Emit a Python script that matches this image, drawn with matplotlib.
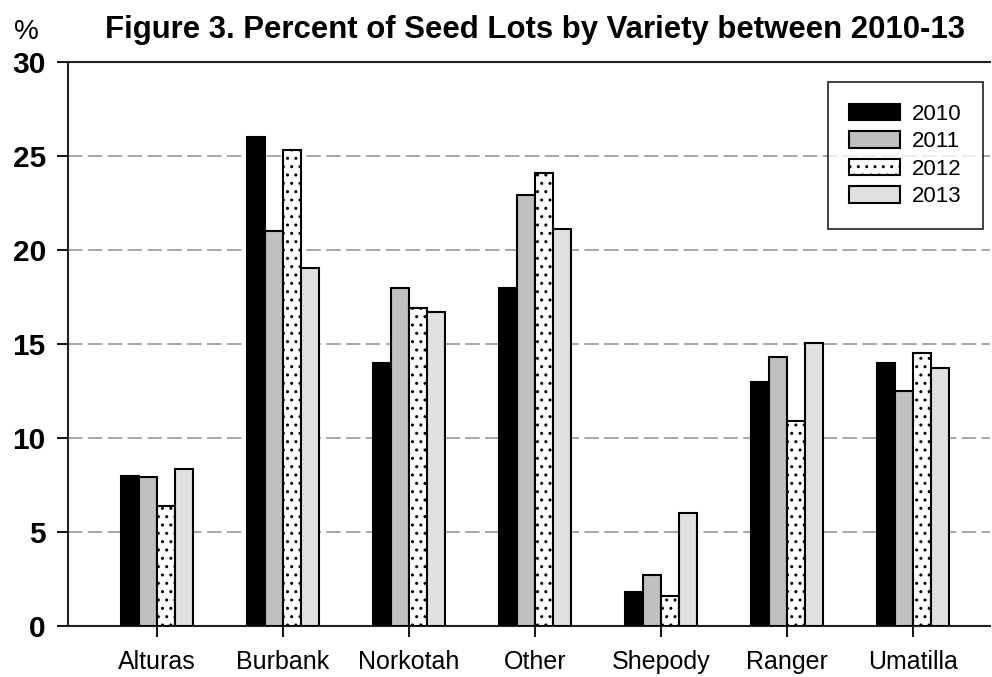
import matplotlib
matplotlib.use("Agg")
import matplotlib.pyplot as plt
import numpy as np

plt.rcParams['font.family'] = ['Liberation Sans', 'DejaVu Sans']
plt.rcParams['hatch.linewidth'] = 1.0

categories = ["Alturas", "Burbank", "Norkotah", "Other", "Shepody", "Ranger", "Umatilla"]
years = ["2010", "2011", "2012", "2013"]
v2010 = [8.0, 26.0, 14.0, 18.0, 1.8, 13.0, 14.0]
v2011 = [7.9, 21.0, 18.0, 22.9, 2.7, 14.3, 12.5]
v2012 = [6.4, 25.3, 16.9, 24.1, 1.6, 10.9, 14.5]
v2013 = [8.35, 19.05, 16.7, 21.1, 6.0, 15.05, 13.7]
series = [v2010, v2011, v2012, v2013]

fills = ["#000000", "#c0c0c0", "#ffffff", "#e0e0e0"]
hatches = [None, None, "..", None]

fig = plt.figure(figsize=(9.92, 6.77), dpi=100)
ax = fig.add_axes([68/992, 1-626/677, (990-68)/992, (626-62)/677])

x = np.arange(len(categories))
w = 0.143
for i, (vals, fc, h) in enumerate(zip(series, fills, hatches)):
    ax.bar(x + (i - 1.5) * w, vals, width=w, color=fc, edgecolor="black",
           linewidth=1.5, hatch=h, label=years[i], zorder=3)

ax.set_ylim(0, 30)
ax.set_xlim(-0.706, 6.61)
ax.set_yticks(range(0, 31, 5))
ax.set_xticks(x)
ax.set_xticklabels(categories, fontsize=18)
for lab in ax.get_yticklabels():
    lab.set_fontsize(21.5)
    lab.set_fontweight("bold")
ax.tick_params(axis="both", direction="out", length=8, width=1.3, color="black")
ax.tick_params(axis="x", pad=9)
ax.tick_params(axis="y", pad=8)

for y in range(5, 30, 5):
    ax.axhline(y, color="#a0a0a0", linestyle=(0, (8, 3)), linewidth=1.3, zorder=1)

ax.spines["right"].set_visible(False)
for s in ["left", "bottom", "top"]:
    ax.spines[s].set_linewidth(1.5)
    ax.spines[s].set_color("#222222")

leg = ax.legend(loc="upper right", bbox_to_anchor=(0.9924, 0.9645), borderaxespad=0,
                fontsize=16, frameon=True, fancybox=False, edgecolor="black",
                handlelength=2.3, handleheight=0.75, borderpad=0.98,
                labelspacing=0.29, handletextpad=0.5)
leg.get_frame().set_linewidth(1.3)

fig.text(0.539, 0.955, "Figure 3. Percent of Seed Lots by Variety between 2010-13",
         ha="center", va="center", fontsize=22.4, fontweight="bold")
fig.text(26/992, 1-32/677, "%", ha="center", va="center", fontsize=20)

fig.savefig("out.png", dpi=100)
